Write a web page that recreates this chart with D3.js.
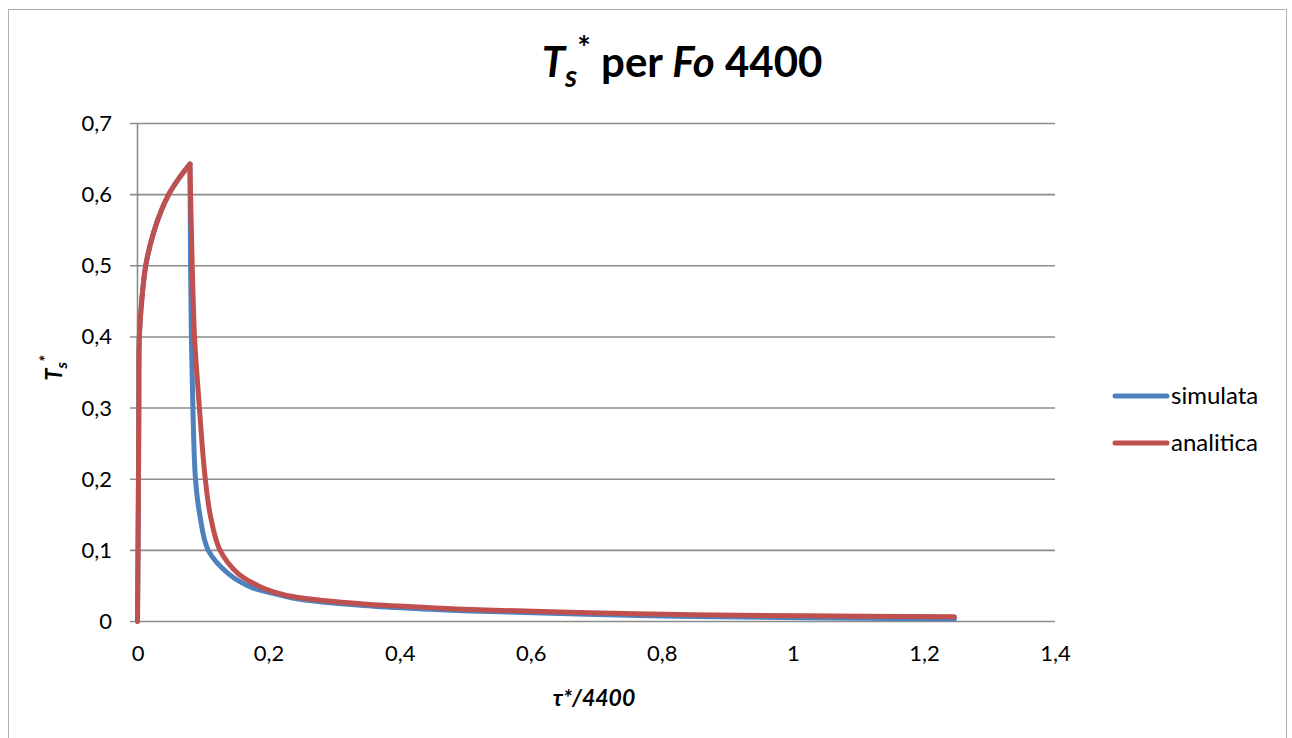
<!DOCTYPE html>
<html><head><meta charset="utf-8">
<script src="https://cdn.jsdelivr.net/npm/d3@7"></script>
<style>body{margin:0;background:#fff;} svg{display:block;}</style>
</head><body>
<svg id="c" width="1292" height="738"></svg>
<script>
// ---- data ----
const xTicks = [0, 0.2, 0.4, 0.6, 0.8, 1, 1.2, 1.4];
const yTicks = [0, 0.1, 0.2, 0.3, 0.4, 0.5, 0.6, 0.7];
const seriesNames = ["simulata", "analitica"];
const seriesColors = ["#4F81BD", "#C0504D"];
// rising part (shared shape)
const riseT = [0, 0.0008, 0.0015, 0.002, 0.0028, 0.0064, 0.0125, 0.024, 0.036, 0.048, 0.064, 0.08];
const riseV = [0, 0.1, 0.2, 0.3, 0.4, 0.45, 0.5, 0.545, 0.577, 0.601, 0.624, 0.643];
// simulata after the peak
const simT = [0.0803, 0.081, 0.0822, 0.0845, 0.0885, 0.095, 0.108, 0.139, 0.174, 0.21, 0.243, 0.345, 0.447, 0.508, 0.762, 1.016, 1.2466];
const simV = [0.6, 0.5, 0.4, 0.3, 0.2, 0.15, 0.1, 0.067, 0.048, 0.039, 0.032, 0.0225, 0.0172, 0.0148, 0.0085, 0.0052, 0.0036];
// analitica after the peak
const anaT = [0.081, 0.0835, 0.087, 0.0905, 0.0945, 0.0985, 0.1035, 0.111, 0.126, 0.154, 0.187, 0.21, 0.243, 0.345, 0.447, 0.508, 0.762, 1.016, 1.2466];
const anaV = [0.6, 0.5, 0.4, 0.35, 0.3, 0.25, 0.2, 0.15, 0.1, 0.067, 0.049, 0.041, 0.034, 0.0245, 0.0195, 0.0168, 0.0108, 0.0080, 0.0066];

const fmt = d => String(d).replace(".", ",");

const svg = d3.select("#c");
const FONT = "Lato, 'Open Sans', sans-serif";

// outer chart border
svg.append("rect").attr("x", 8.5).attr("y", 9.5).attr("width", 1278).attr("height", 740)
  .attr("fill", "#fff").attr("stroke", "#b0b0b0").attr("stroke-width", 1);

const x = d3.scaleLinear().domain([0, 1.4]).range([137.5, 1055]);
const y = d3.scaleLinear().domain([0, 0.7]).range([621.5, 123.5]);

// gridlines
svg.append("g").selectAll("line").data(yTicks).join("line")
  .attr("x1", 130).attr("x2", 1055)
  .attr("y1", d => y(d)).attr("y2", d => y(d))
  .attr("stroke", "#8c8c8c").attr("stroke-width", 1.6);

// y axis line
svg.append("line").attr("x1", x(0)).attr("x2", x(0)).attr("y1", y(0.7)).attr("y2", y(0))
  .attr("stroke", "#8c8c8c").attr("stroke-width", 1.6);

// y tick labels
const yAxis = d3.axisLeft(y).tickValues(yTicks).tickFormat(fmt).tickSize(0).tickPadding(0);
const gy = svg.append("g").attr("transform", "translate(112,0)").call(yAxis);
gy.select(".domain").remove();
gy.selectAll("text").attr("font-family", FONT).attr("font-size", 22).attr("fill", "#000");

// x tick labels
const xAxis = d3.axisBottom(x).tickValues(xTicks).tickFormat(fmt).tickSize(0).tickPadding(0);
const gx = svg.append("g").attr("transform", "translate(0,645)").call(xAxis);
gx.select(".domain").remove();
gx.selectAll("text").attr("font-family", FONT).attr("font-size", 22).attr("fill", "#000");

// series
const curve = d3.curveCatmullRom.alpha(0.5);
const line = d3.line().x(d => x(d[0])).y(d => y(d[1])).curve(curve);
const rise = riseT.map((t, i) => [t, riseV[i]]);
const sim = rise.concat(simT.map((t, i) => [t, simV[i]]));
const ana = rise.concat(anaT.map((t, i) => [t, anaV[i]]));
function drawSeries(data, color) {
  const peakIdx = riseT.length - 1;
  const g = svg.append("g").attr("fill", "none").attr("stroke", color)
    .attr("stroke-width", 5).attr("stroke-linecap", "round").attr("stroke-linejoin", "round");
  g.append("path").attr("d", line(data.slice(0, peakIdx + 1)));
  g.append("path").attr("d", line(data.slice(peakIdx)));
}
drawSeries(sim, seriesColors[0]);
drawSeries(ana, seriesColors[1]);

// title
const title = svg.append("text").attr("x", 682).attr("y", 77).attr("text-anchor", "middle")
  .attr("font-family", FONT).attr("font-weight", "bold").attr("font-size", 42).attr("fill", "#000");
title.append("tspan").attr("font-style", "italic").text("T");
title.append("tspan").attr("font-style", "italic").attr("font-size", 30).attr("dy", 10).text("s");
title.append("tspan").attr("font-size", 32).attr("dy", -27).text("*");
title.append("tspan").attr("dy", 17).text(" per ");
title.append("tspan").attr("font-style", "italic").text("Fo");
title.append("tspan").text(" 4400");

// x axis title
svg.append("text").attr("x", 594).attr("y", 706).attr("text-anchor", "middle")
  .attr("font-family", FONT).attr("font-weight", "bold").attr("font-style", "italic")
  .attr("font-size", 23).text("τ*/4400");

// y axis title
const yt = svg.append("text").attr("transform", "translate(62,368) rotate(-90)")
  .attr("text-anchor", "middle").attr("font-family", FONT).attr("font-weight", "bold")
  .attr("font-style", "italic").attr("font-size", 22);
yt.append("tspan").text("T");
yt.append("tspan").attr("font-size", 16).attr("dy", 5).text("s");
yt.append("tspan").attr("font-size", 17).attr("dy", -15).text("*");

// legend
const leg = svg.append("g").selectAll("g").data(seriesNames).join("g")
  .attr("transform", (d, i) => `translate(1115,${396 + i * 47})`);
leg.append("line").attr("x1", 0).attr("x2", 52).attr("y1", 0).attr("y2", 0)
  .attr("stroke", (d, i) => seriesColors[i]).attr("stroke-width", 5).attr("stroke-linecap", "round");
leg.append("text").attr("x", 56).attr("y", 8).attr("font-family", FONT).attr("font-size", 24)
  .text(d => d);
</script>
</body></html>
